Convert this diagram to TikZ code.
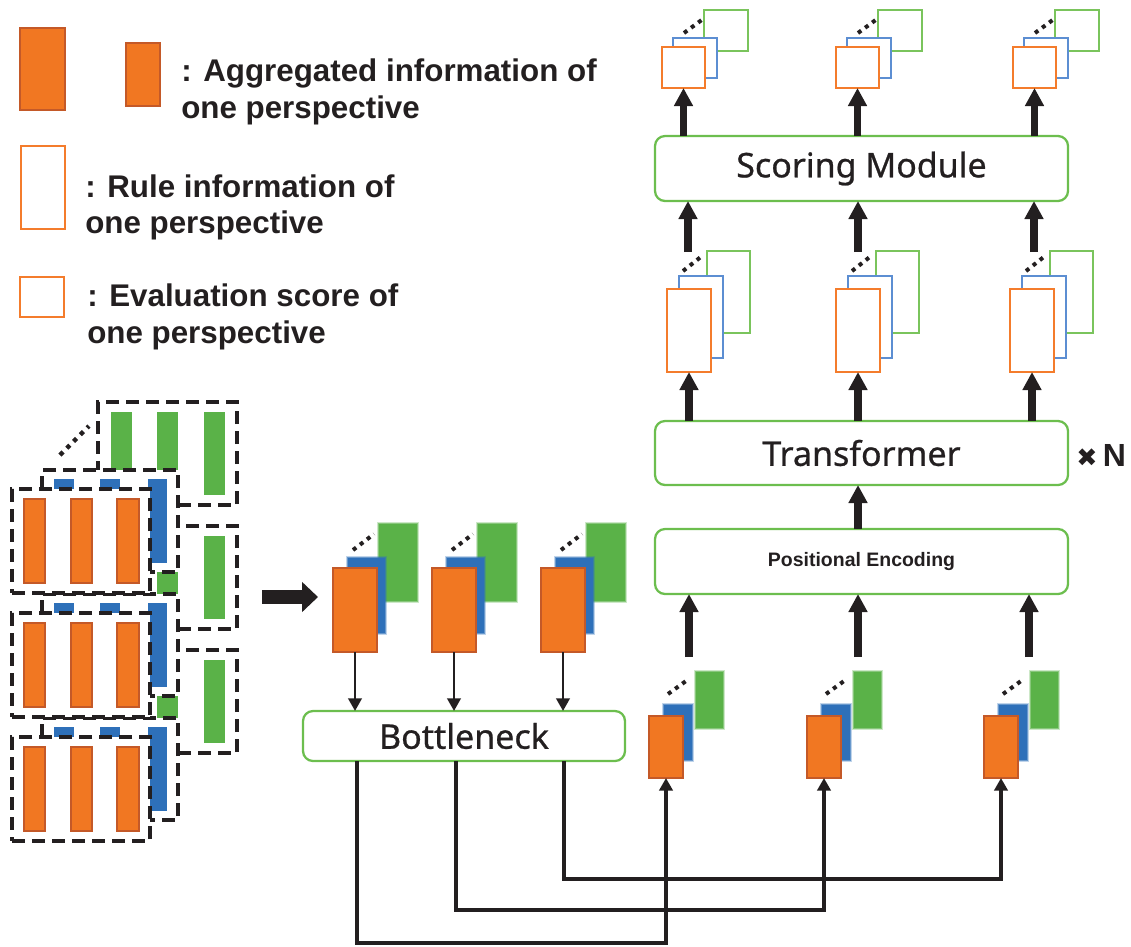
\documentclass[tikz,border=0pt]{standalone}
\usepackage{fontspec}
\setmainfont{Liberation Sans}
\newfontfamily\boxfont[FakeBold=0.7]{Noto Sans}
\newfontfamily\symfont{DejaVu Sans}
\usetikzlibrary{arrows.meta,calc}

\definecolor{ink}{RGB}{35,31,32}
\definecolor{orF}{RGB}{241,119,34}
\definecolor{orD}{RGB}{196,89,40}
\definecolor{orL}{RGB}{244,124,44}
\definecolor{blu}{RGB}{46,112,185}
\definecolor{blL}{RGB}{92,142,210}
\definecolor{grn}{RGB}{90,178,72}
\definecolor{grL}{RGB}{122,196,92}
\definecolor{grB}{RGB}{108,190,78}

\tikzset{
  solid/.style={fill=orF, draw=orD, line width=1.1pt},
  orline/.style={draw=orL, fill=white, line width=1.6pt},
  blline/.style={draw=blL, fill=white, line width=1.4pt},
  grline/.style={draw=grL, fill=white, line width=1.4pt},
  dashbox/.style={draw=ink, fill=white, line width=3pt, dash pattern=on 9.75pt off 5.25pt},
  dotline/.style={draw=ink, line width=3.2pt, dash pattern=on 3.2pt off 4pt},
  smalldot/.style={draw=ink, line width=3pt, dash pattern=on 3pt off 3.6pt},
  modbox/.style={draw=grB, fill=white, line width=1.7pt, rounded corners=7.5pt,
    font=\boxfont\fontsize{25.5}{30}\selectfont, text=ink},
  legtext/.style={anchor=base west, inner sep=0pt, text=ink,
    font=\fontsize{23.5}{27}\selectfont\bfseries},
  fat/.style={draw=ink, line width=5.6pt, -{Triangle[length=13.5pt,width=13.5pt]}},
  slim/.style={draw=ink, line width=2.2pt, -{Triangle[length=9.5pt,width=10pt]}},
  conn/.style={draw=ink, line width=2.6pt, -{Triangle[length=9.5pt,width=10pt]}},
  bigarrow/.style={draw=ink, line width=10.5pt, -{Triangle[length=12pt,width=22pt]}},
}

% rectangle node given by its corners in pixel units: [text]{style}{name}{x1}{y1}{x2}{y2}
\newcommand\rbox[7][]{%
  \node[#2, anchor=north west, inner sep=0pt, outer sep=0pt,
        minimum width={((#6)-(#4))*0.75pt}, minimum height={((#7)-(#5))*0.75pt}]
        (#3) at (#4,#5) {#1};}
% soft-edged filled rectangle
\newcommand\softrect[5]{%
  \fill[#1,opacity=0.3] ({(#2)-2.2},{(#3)-2.2}) rectangle ({(#4)+2.2},{(#5)+2.2});
  \fill[#1,opacity=0.6] ({(#2)-1},{(#3)-1}) rectangle ({(#4)+1},{(#5)+1});
  \fill[#1] (#2,#3) rectangle (#4,#5);}

\begin{document}
\begin{tikzpicture}[x=0.75pt,y=-0.75pt]
\useasboundingbox (0,0) rectangle (1131,946);

% ---------------- key ----------------
\rbox{solid}{keyA}{20}{28}{65}{110}
\rbox{solid}{keyB}{126}{43}{160}{106}
\node[legtext] (tA1) at (181,81) {: Aggregated information of};
\node[legtext] (tA2) at (181,118) {one perspective};
\rbox{orline}{keyR}{21}{146}{65}{229}
\node[legtext] (tR1) at (85,197) {: Rule information of};
\node[legtext] (tR2) at (85,233) {one perspective};
\rbox{orline}{keyE}{20}{277}{64}{317}
\node[legtext] (tE1) at (87,306) {: Evaluation score of};
\node[legtext] (tE2) at (87,343) {one perspective};

% ---------------- stacked input views ----------------
\foreach \k in {0,1,2}{
  \pgfmathsetmacro\dy{124*\k}
  \rbox{dashbox}{gv\k}{98}{402+\dy}{237}{505+\dy}
  \fill[grn] (111,412+\dy) rectangle (132,495+\dy);
  \fill[grn] (157,412+\dy) rectangle (178,495+\dy);
  \fill[grn] (204,412+\dy) rectangle (225,495+\dy);
}
\draw[dotline] (60,455) -- (89,426);
\foreach \k in {0,1,2}{
  \pgfmathsetmacro\dy{124*\k}
  \rbox{dashbox}{bv\k}{42}{470+\dy}{178}{572+\dy}
  \fill[blu] (54,479+\dy) rectangle (74,563+\dy);
  \fill[blu] (100,479+\dy) rectangle (120,563+\dy);
  \fill[blu] (148,479+\dy) rectangle (167,563+\dy);
}
\foreach \k in {0,1,2}{
  \pgfmathsetmacro\dy{124*\k}
  \rbox{dashbox}{ov\k}{12}{489+\dy}{150}{593+\dy}
  \draw[solid] (24,499+\dy) rectangle (45,583+\dy);
  \draw[solid] (71,499+\dy) rectangle (92,583+\dy);
  \draw[solid] (117,499+\dy) rectangle (139,583+\dy);
}

\coordinate (bigS) at (262,597);
\coordinate (bigE) at (318,597);
\draw[bigarrow] (bigS) -- (bigE);

% ---------------- aggregated views ----------------
\foreach \X/\i in {333/1,432/2,541/3}{
  \softrect{grn}{\X+46}{524}{\X+84}{601}
  \softrect{blu}{\X+15}{558}{\X+52}{633}
  \rbox{solid}{m\i}{\X}{568}{\X+44}{652}
  \draw[smalldot] (\X+20,550) -- (\X+41,534);
}

\rbox[Bottleneck]{modbox}{bn}{303}{711}{625}{761}
\foreach \i in {1,2,3}{
  \draw[slim] (m\i.south) -- (m\i.south |- bn.north);
}

% ---------------- redistributed views ----------------
\foreach \X/\i in {649/1,807/2,984/3}{
  \softrect{grn}{\X+47}{672}{\X+74}{728}
  \softrect{blu}{\X+15}{705}{\X+43}{760}
  \rbox{solid}{b\i}{\X}{716}{\X+34}{778}
  \draw[smalldot] (\X+19,694) -- (\X+37,681);
}

\coordinate (t1) at (357,0);
\coordinate (t2) at (456,0);
\coordinate (t3) at (564,0);
\draw[conn] (bn.south -| t1) -- ++(0,182) -| (b1.south);
\draw[conn] (bn.south -| t2) -- ++(0,149) -| (b2.south);
\draw[conn] (bn.south -| t3) -- ++(0,118) -| (b3.south);

% ---------------- encoder ----------------
\rbox[\fontsize{14.6}{17}\selectfont\rmfamily\bfseries Positional Encoding]{modbox}{pe}{655}{529}{1068}{594}
\rbox[Transformer]{modbox}{tr}{655}{421}{1068}{485}
\rbox[Scoring Module]{modbox}{sc}{655}{136}{1068}{201}
\node[anchor=west, inner sep=0pt, text=ink, font=\fontsize{24}{28}\selectfont\bfseries]
  (rep) at (1076,455) {{\symfont\fontsize{19}{22}\selectfont ✖}\,N};

\coordinate (u1) at (689,657);
\coordinate (u2) at (858,657);
\coordinate (u3) at (1029,657);
\foreach \i in {1,2,3}{
  \draw[fat] (u\i) -- (u\i |- pe.south);
}
\coordinate (mid) at (858,0);
\draw[fat] (pe.north -| mid) -- (tr.south -| mid);

% rule information per perspective
\foreach \X/\i in {667/1,836/2,1010/3}{
  \rbox{grline}{rg\i}{\X+40}{251}{\X+83}{333}
  \rbox{blline}{rb\i}{\X+12}{276}{\X+56}{358}
  \rbox{orline}{r\i}{\X}{289}{\X+44}{372}
  \draw[smalldot] (\X+16,271) -- (\X+35,256);
  \draw[fat] (tr.north -| r\i.south) -- (r\i.south);
}
\coordinate (v1) at (688,252);
\coordinate (v2) at (858,252);
\coordinate (v3) at (1034,252);
\foreach \i in {1,2,3}{
  \draw[fat] (v\i) -- (v\i |- sc.south);
}

% evaluation scores per perspective
\foreach \X/\i in {662/1,836/2,1013/3}{
  \rbox{grline}{sg\i}{\X+42}{10}{\X+86}{51}
  \rbox{blline}{sb\i}{\X+11}{38}{\X+55}{78}
  \rbox{orline}{s\i}{\X}{47}{\X+43}{88}
  \draw[smalldot] (\X+22,33) -- (\X+41,19);
  \draw[fat] (sc.north -| s\i.south) -- (s\i.south);
}
\end{tikzpicture}
\end{document}
